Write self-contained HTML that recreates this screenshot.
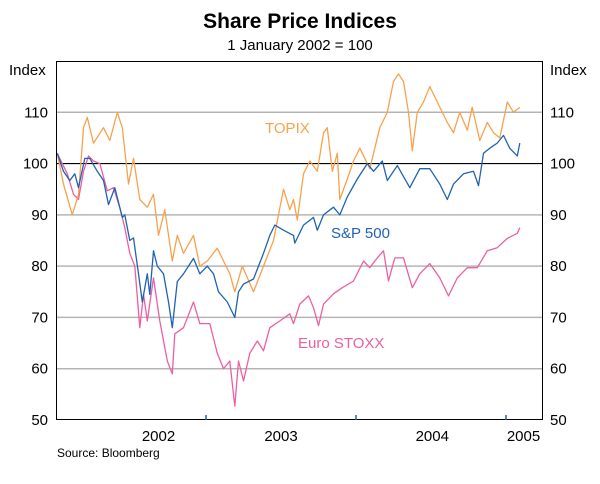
<!DOCTYPE html>
<html><head><meta charset="utf-8"><style>
body{margin:0;background:#fff;}
svg{display:block;font-family:"Liberation Sans",Arial,sans-serif;}
</style></head><body>
<svg id="chart" width="600" height="484" viewBox="0 0 600 484">
<text x="300" y="28" text-anchor="middle" font-size="21" font-weight="bold">Share Price Indices</text>
<text x="300" y="50" text-anchor="middle" font-size="15">1 January 2002 = 100</text>
<text x="9" y="75" font-size="15">Index</text>
<text x="550" y="75" font-size="15">Index</text>
<g id="grid"></g>
<g id="series"></g>
<rect x="56.5" y="61.5" width="486" height="358" fill="none" stroke="#000" stroke-width="1"/>
<g id="labels"></g>
<text x="265" y="133" font-size="15" fill="#F7A24C">TOPIX</text>
<text x="331" y="238" font-size="15" fill="#1E63B4">S&amp;P 500</text>
<text x="298" y="348" font-size="15" fill="#EC5FA2">Euro STOXX</text>
<text x="57" y="457" font-size="12">Source: Bloomberg</text>
</svg>
<script>
const yTicks=[50,60,70,80,90,100,110];
const xLabels=["2002","2003","2004","2005"];
const xLabelMonths=[8.2,18.0,30.1,37.4];
const yearTickMonths=[12,24,36];
const topixMonths=[0.1,0.6,1.3,1.8,2.2,2.5,3.0,3.8,4.3,4.9,5.3,5.8,6.2,6.7,7.3,7.8,8.2,8.7,9.3,9.7,10.2,11.0,11.5,12.1,12.9,13.4,13.9,14.3,14.9,15.8,16.6,17.4,18.2,18.7,19.0,19.3,19.8,20.3,20.9,21.4,21.7,22.1,22.5,22.7,23.3,23.8,24.3,25.1,25.9,26.5,27.0,27.4,27.8,28.2,28.5,28.9,29.4,29.9,30.5,31.3,31.8,32.3,32.9,33.3,33.9,34.5,35.0,35.5,36.1,36.6,37.1];
const topixValues=[102,96,90,94,107,109,104,107,104.5,110,107,96,101,93,91.5,94,86,91,81,86,82.5,86,80,81,83.5,81,78.5,75,80,75,80,85,95,91,93,89,98,100.5,98.5,106,107,98.5,102,93,97,100.5,103,99,107,110,116,117.5,116,110,102.5,110,112,115,112,108,106,110,106.5,111,104.5,108,106,105,112,110,111];
const spMonths=[0.1,0.6,1.1,1.5,1.8,2.3,2.7,3.3,3.8,4.2,4.7,5.3,5.5,5.9,6.2,6.6,6.9,7.3,7.5,7.8,8.1,8.6,9.0,9.3,9.7,10.2,10.6,11.0,11.5,12.1,12.6,13.0,13.7,14.3,14.6,15.0,15.8,16.6,17.1,17.5,18.2,19.0,19.1,19.8,20.6,20.9,21.4,22.2,22.7,23.3,24.1,24.9,25.4,26.1,26.5,27.3,28.3,29.1,29.9,30.7,31.3,31.8,32.6,33.4,33.8,34.2,34.7,35.3,35.8,36.3,36.9,37.1];
const spValues=[102,98.5,96.7,98,95.3,101,101,98.5,96.7,92,95.3,89.5,90,85,85.5,78.5,73,78.5,74.5,83,80,78.5,73,68,77,78.5,80,81.5,78.5,80,78.5,75,73,70,75,76.5,77.5,82.5,86,88,87,86,84.5,88,89.5,87,90,91.5,90,93.5,97,100,98.5,100.5,96.7,99.6,95.3,99,99,96,93,96,98,98.5,95.7,102,103,104,105.5,103,101.5,104];
const euroMonths=[0.1,0.9,1.4,1.8,2.2,2.6,3.0,3.5,4.1,4.6,5.1,5.5,5.9,6.3,6.7,7.0,7.3,7.8,8.3,8.9,9.3,9.5,10.2,11.0,11.5,12.3,12.9,13.4,13.9,14.3,14.6,15.0,15.5,16.1,16.6,17.1,17.9,18.7,19.0,19.5,20.2,20.6,21.0,21.4,22.2,22.9,23.8,24.6,25.1,25.7,26.2,26.6,27.1,27.8,28.5,29.1,29.9,30.7,31.4,32.1,32.9,33.7,34.5,35.3,36.1,36.9,37.1];
const euroValues=[102,98,94,93,98.5,101.5,100.5,100,94.7,95.3,91.4,87.5,82.5,80,68,74.5,69.3,77.7,69.3,61.5,59,66.8,68,73,68.8,68.8,63,60,61.5,52.7,61.5,57.6,63,65.4,63.5,68,69.3,70.7,68.8,72.6,74.2,71.9,68.4,72.6,74.6,75.8,77.1,81,79.7,81.6,83,77.1,81.6,81.6,75.8,78.5,80.5,77.7,74.2,77.7,79.7,79.7,83,83.6,85.4,86.4,87.5];

const NS="http://www.w3.org/2000/svg";
const X0=56,X1=542,Y0=61,Y1=420;
function xScale(m){return X0+m*12.5;}
function yScale(v){return Y1-(v-50)*(Y1-Y0)/70;}
function mk(tag,attrs){const e=document.createElementNS(NS,tag);for(const k in attrs)e.setAttribute(k,attrs[k]);return e;}
const grid=document.getElementById('grid'),labels=document.getElementById('labels'),series=document.getElementById('series');
yTicks.forEach(v=>{
  const y=yScale(v);
  if(v>50){
    const l=mk('line',{x1:X0,x2:X1,y1:y,y2:y,stroke:v===100?'#000':'#b4b4b4','stroke-width':v===100?1.2:1.5});
    
    
    grid.appendChild(l);
  }
  const t1=mk('text',{x:48,y:y+5,'text-anchor':'end','font-size':15});
  t1.textContent=v;
  
  
  labels.appendChild(t1);
  const t2=mk('text',{x:550,y:y+5,'font-size':15});
  t2.textContent=v;
  
  
  labels.appendChild(t2);
});
yearTickMonths.forEach(m=>{
  const x=xScale(m);
  const l=mk('line',{x1:x,x2:x,y1:Y1,y2:Y1-5,stroke:'#1E63B4','stroke-width':1.5});
  
  
  labels.appendChild(l);
});
xLabels.forEach((s,i)=>{
  const t=mk('text',{x:xScale(xLabelMonths[i]),y:441,'text-anchor':'middle','font-size':15});
  t.textContent=s;
  
  
  labels.appendChild(t);
});
function draw(ms,vs,color,name){
  const n=Math.min(ms.length,vs.length);let d='';
  for(let i=0;i<n;i++)d+=(i?'L':'M')+xScale(ms[i]).toFixed(1)+','+yScale(vs[i]).toFixed(1);
  const p=mk('path',{d:d,fill:'none',stroke:color,'stroke-width':1.3,'stroke-linejoin':'round'});
  
  
  series.appendChild(p);
}
draw(euroMonths,euroValues,'#EC5FA2','eurostoxx-line');
draw(topixMonths,topixValues,'#F7A24C','topix-line');
draw(spMonths,spValues,'#1E63B4','sp500-line');
</script>
</body></html>
